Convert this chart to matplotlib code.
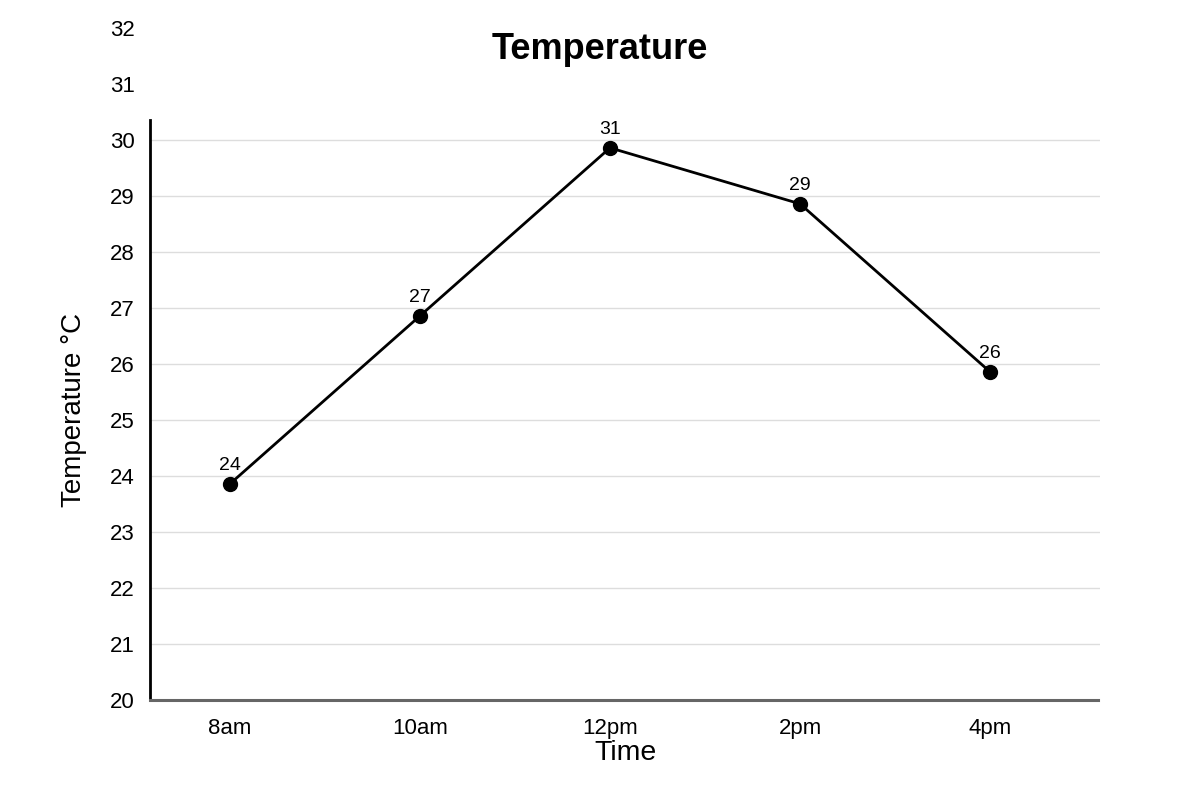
import matplotlib.pyplot as plt

plt.rcParams['font.family'] = ['Liberation Sans', 'DejaVu Sans']

times = ['8am', '10am', '12pm', '2pm', '4pm']
temps = [23.86, 26.86, 29.86, 28.86, 25.86]
point_labels = ['24', '27', '31', '29', '26']
yticks = list(range(20, 33))

fig = plt.figure(figsize=(12, 8), dpi=100)
ax = fig.add_axes([0.125, 0.125, 0.7917, 0.84])

x = list(range(len(times)))
ax.plot(x, temps, color='black', linewidth=2, marker='o', markersize=10, zorder=3)
for xi, yi, lab in zip(x, temps, point_labels):
    ax.annotate(lab, (xi, yi), xytext=(0, 7), textcoords='offset points',
                ha='center', va='bottom', fontsize=14)

for t in range(21, 31):
    ax.axhline(t, color='#dddddd', linewidth=1, zorder=1)

ax.set_xlim(-80 / 190, 4 + 110 / 190)
ax.set_ylim(20, 32)
ax.set_xticks(x)
ax.set_xticklabels(times, fontsize=16)
ax.set_yticks(yticks)
ax.set_yticklabels([str(t) for t in yticks], fontsize=16)
ax.tick_params(axis='x', length=0, pad=13)
ax.tick_params(axis='y', length=0, pad=11)

for s in ['top', 'right']:
    ax.spines[s].set_visible(False)
ax.spines['left'].set_bounds(20, 30.36)
ax.spines['left'].set_linewidth(2)
ax.spines['left'].set_color('black')
ax.spines['bottom'].set_bounds(-80 / 190, 4 + 108 / 190)
ax.spines['bottom'].set_linewidth(2.2)
ax.spines['bottom'].set_color('#666666')

ax.set_xlabel('Time', fontsize=20.5, labelpad=1)
ax.set_ylabel('Temperature °C', fontsize=20)
ax.yaxis.set_label_coords(-0.066, 0.4315)
fig.text(0.5, 0.938, 'Temperature', ha='center', va='center', fontsize=26, fontweight='bold')

fig.savefig('out.png', dpi=100)
